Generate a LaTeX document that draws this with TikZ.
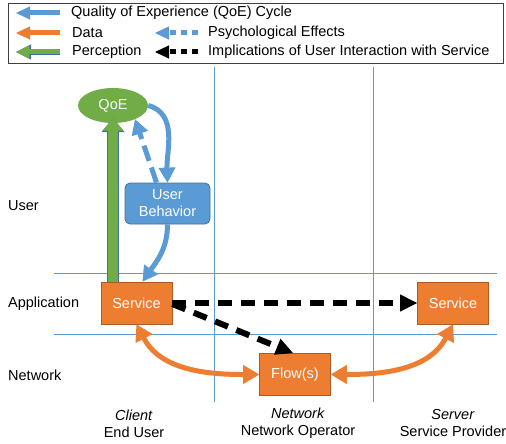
\documentclass[tikz,border=0pt]{standalone}
\usepackage{fontspec}
\setmainfont{Liberation Sans}
\usetikzlibrary{arrows.meta,shapes.geometric,positioning}

\definecolor{qoeblue}{HTML}{5B9BD5}
\definecolor{blueedge}{HTML}{41719C}
\definecolor{dataorange}{HTML}{ED7D31}
\definecolor{orangeedge}{HTML}{AE5A21}
\definecolor{percgreen}{HTML}{70AD47}

\tikzset{
	layer/.style={draw=qoeblue, line width=0.8pt},
	service/.style={draw=orangeedge, fill=dataorange, text=white, line width=0.8pt,
		minimum width=71pt, minimum height=42pt, inner sep=0pt},
	behavior/.style={draw=blueedge, fill=qoeblue, text=white, line width=0.8pt, rounded corners=5pt,
		minimum width=85pt, minimum height=41pt, inner sep=0pt, align=center},
	qoenode/.style={ellipse, fill=percgreen, text=white, minimum width=70pt, minimum height=35pt, inner sep=0pt},
	cycle/.style={draw=qoeblue, line width=5pt, -{Triangle[width=17pt,length=15pt,line width=1pt]}},
	psych/.style={cycle, dash pattern=on 16pt off 7pt},
	data/.style={draw=dataorange, line width=5pt,
		{Triangle[width=19pt,length=16pt,line width=1pt]}-{Triangle[width=19pt,length=16pt,line width=1pt]}},
	impl/.style={draw=black, line width=6pt, dash pattern=on 14pt off 9pt,
		-{Triangle[width=17pt,length=17pt,line width=1pt]}},
	perc/.style={preaction={draw=blueedge, line width=11.6pt, -{Triangle[width=23pt,length=14pt,line width=1pt]}},
		draw=percgreen, line width=10pt, -{Triangle[width=20.6pt,length=12.4pt,line width=1pt]}},
	keyarrow/.style={line width=5pt, -{Triangle[width=13pt,length=14pt,line width=1pt]}},
	keytext/.style={anchor=west, inner sep=0pt},
	caption/.style={align=center, inner sep=0pt}
}

\begin{document}
\begin{tikzpicture}[x=1pt, y=-1pt, font=\fontsize{14.5}{17}\selectfont]
	\useasboundingbox (0,0) rectangle (506,444);

	% legend
	\draw[draw=black!75, line width=0.8pt] (8,3) rectangle (503,63);
	\coordinate (k1a) at (60,13); \coordinate (k1b) at (16,13);
	\coordinate (k2a) at (60,33); \coordinate (k2b) at (16,33);
	\coordinate (k3a) at (60,52); \coordinate (k3b) at (16,52);
	\coordinate (k4a) at (198,33); \coordinate (k4b) at (155,33);
	\coordinate (k5a) at (198,52); \coordinate (k5b) at (155,52);
	\draw[keyarrow, draw=qoeblue] (k1a) -- (k1b);
	\draw[keyarrow, draw=dataorange] (k2a) -- (k2b);
	\draw[preaction={draw=blueedge, line width=6.6pt, -{Triangle[width=15pt,length=15pt,line width=1pt]}},
		keyarrow, draw=percgreen, -{Triangle[width=12.6pt,length=13.4pt,line width=1pt]}] (k3a) -- (k3b);
	\draw[keyarrow, draw=qoeblue, dash pattern=on 6pt off 5pt] (k4a) -- (k4b);
	\draw[keyarrow, draw=black, dash pattern=on 6pt off 5pt] (k5a) -- (k5b);
	\node[keytext] (key1) at (71,13) {Quality of Experience (QoE) Cycle};
	\node[keytext] (key2) at (72,33) {Data};
	\node[keytext] (key3) at (72,52) {Perception};
	\node[keytext] (key4) at (208,33) {Psychological Effects};
	\node[keytext] (key5) at (208,52) {Implications of User Interaction with Service};

	% layers
	\draw[layer] (214,67) -- (214,402);
	\draw[layer] (373,67) -- (373,402);
	\draw[layer] (54,273) -- (497,273);
	\draw[layer] (54,334) -- (497,334);

	\node[keytext] (user) at (8,206) {User};
	\node[keytext] (app) at (8,304) {Application};
	\node[keytext] (net) at (8,375) {Network};

	% nodes
	\node[qoenode] (qoe) at (113,105.5) {QoE};
	\node[behavior] (ub) at (167.5,203.5) {User\\Behavior};
	\node[service] (svcA) at (136.5,303) {Service};
	\node[service] (svcB) at (453,303) {Service};
	\node[service] (flow) at (295,374.5) {Flow(s)};

	\node[caption] (client) at (134,423.5) {\textit{Client}\\End User};
	\node[caption] (operator) at (298,423.5) {\textit{Network}\\Network Operator};
	\node[caption] (provider) at (453,423.5) {\textit{Server}\\Service Provider};

	% arrows
	\draw[perc] (svcA.north -| qoe.south) -- ([yshift=5pt]qoe.south);
	\draw[cycle] (qoe.east) to[out=-15, in=92] (ub.north);
	\draw[psych] ([xshift=-11pt]ub.north) -- (qoe.-32);
	\draw[cycle] (ub.south) to[out=-90, in=55] ([xshift=6pt]svcA.north);
	\draw[impl] (svcA.east) -- (svcB.west);
	\draw[impl] ([yshift=-1pt]svcA.east) -- ([xshift=-2pt]flow.north);
	\draw[data] (svcA.south) to[out=-62, in=180] (flow.west);
	\draw[data] (flow.east) to[out=0, in=-118] (svcB.south);
\end{tikzpicture}
\end{document}
